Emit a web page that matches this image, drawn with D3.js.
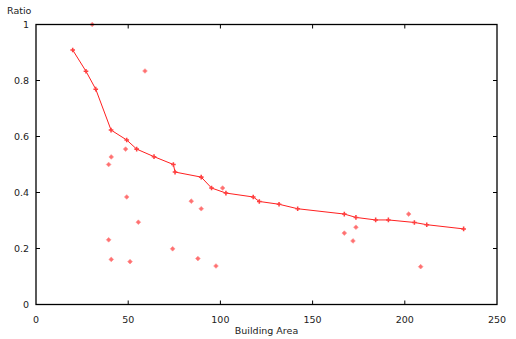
<!DOCTYPE html>
<html><head><meta charset="utf-8">
<script src="https://cdn.jsdelivr.net/npm/d3@7"></script>
<style>
body{margin:0;background:#fff;}
text{font-family:"DejaVu Sans",sans-serif;font-size:9.5px;fill:#222;}
</style></head>
<body><svg id="c" width="516" height="339"></svg>
<script>
const lineX = [19.9,27.1,32.4,40.7,49.2,54.6,64.0,74.5,75.4,89.6,95.2,103.0,117.8,121.1,131.8,141.9,167.2,173.5,184.2,191.1,205.2,211.9,231.9];
const lineY = [0.909,0.833,0.769,0.623,0.5875,0.555,0.528,0.500,0.473,0.455,0.416,0.398,0.384,0.368,0.358,0.342,0.323,0.311,0.302,0.302,0.293,0.285,0.270];
const scatX = [30.5,59.1,48.6,40.8,39.4,49.2,55.5,39.4,40.8,51.0,74.1,84.2,89.6,87.8,97.6,101.2,202.1,167.2,173.5,171.9,208.6];
const scatY = [1.0,0.834,0.555,0.527,0.500,0.384,0.294,0.231,0.161,0.153,0.199,0.369,0.342,0.164,0.1375,0.416,0.323,0.255,0.276,0.227,0.135];
const xTicks = [0,50,100,150,200,250];
const yTicks = [0,0.2,0.4,0.6,0.8,1];
const yTickLabels = ["0","0.2","0.4","0.6","0.8","1"];

const svg = d3.select("#c");
const L=36, R=497, T=24.5, B=304.5;
const x = d3.scaleLinear().domain([0,250]).range([L,R]);
const y = d3.scaleLinear().domain([0,1]).range([B,T]);

const tl=4;
xTicks.forEach(v=>{
  if(v>0 && v<250){
    svg.append("line").attr("x1",x(v)).attr("x2",x(v)).attr("y1",B).attr("y2",B-tl).attr("stroke","#000");
    svg.append("line").attr("x1",x(v)).attr("x2",x(v)).attr("y1",T).attr("y2",T+tl).attr("stroke","#000");
  }
  svg.append("text").attr("x",x(v)).attr("y",B+18).attr("text-anchor","middle").text(v);
});
yTicks.forEach((v,i)=>{
  if(v>0 && v<1){
    svg.append("line").attr("x1",L).attr("x2",L+tl).attr("y1",y(v)).attr("y2",y(v)).attr("stroke","#000");
    svg.append("line").attr("x1",R).attr("x2",R-tl).attr("y1",y(v)).attr("y2",y(v)).attr("stroke","#000");
  }
  svg.append("text").attr("x",L-7).attr("y",y(v)+3.5).attr("text-anchor","end").text(yTickLabels[i]);
});

const diamond = d3.symbol().type(d3.symbolSquare).size(11);
svg.append("g").selectAll("path").data(scatX).join("path")
  .attr("d",diamond).attr("transform",(d,i)=>`translate(${x(d)},${y(scatY[i])}) rotate(45)`)
  .attr("fill","#ff7070").attr("stroke","#ff9090").attr("stroke-width",0.6);

const pts = lineX.map((d,i)=>[d,lineY[i]]);
svg.append("path").attr("d",d3.line().x(d=>x(d[0])).y(d=>y(d[1]))(pts))
  .attr("fill","none").attr("stroke","#ff2020").attr("stroke-width",1);
svg.append("g").selectAll("path").data(pts).join("path")
  .attr("d",d3.symbol().type(d3.symbolCross).size(12))
  .attr("transform",d=>`translate(${x(d[0])},${y(d[1])})`)
  .attr("fill","#ff4040");

svg.append("rect").attr("x",L).attr("y",T).attr("width",R-L).attr("height",B-T)
  .attr("fill","none").attr("stroke","#000").attr("stroke-width",1.3);

svg.append("text").attr("x",(L+R)/2).attr("y",334).attr("text-anchor","middle").text("Building Area");
svg.append("text").attr("x",7).attr("y",14).text("Ratio");
</script></body></html>
